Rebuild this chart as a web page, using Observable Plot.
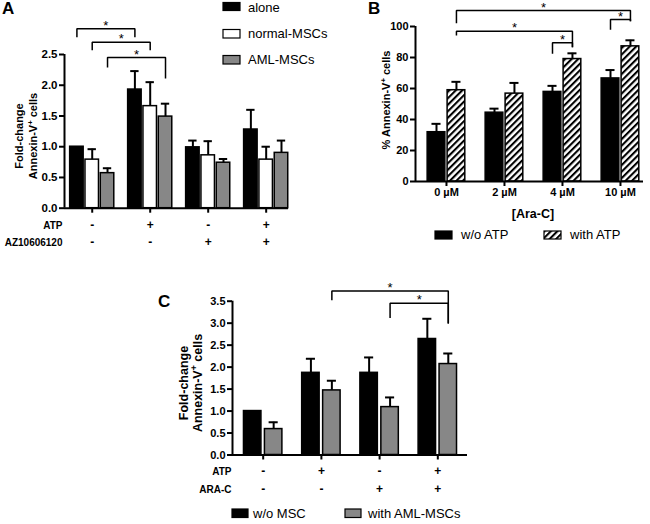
<!DOCTYPE html>
<html><head><meta charset="utf-8">
<script src="https://cdn.jsdelivr.net/npm/d3@7"></script>
<script src="https://cdn.jsdelivr.net/npm/@observablehq/plot@0.6"></script>
<style>
body{margin:0;background:#fff;}
#fig{position:relative;width:650px;height:524px;overflow:hidden;background:#fff;font-family:"Liberation Sans",Arial,Helvetica,sans-serif;}
</style></head><body><div id="fig"></div><script>
// ---------------- DATA ----------------
// Panel A
const atpA = ["-", "+", "-", "+"];
const azA = ["-", "-", "+", "+"];
const seriesA = ["alone", "normal-MSCs", "AML-MSCs"];
const aloneA = [1.00, 1.93, 0.99, 1.28];
const aloneErrA = [0, 0.30, 0.11, 0.32];
const normalA = [0.79, 1.66, 0.86, 0.79];
const normalErrA = [0.17, 0.39, 0.23, 0.21];
const amlA = [0.57, 1.49, 0.74, 0.90];
const amlErrA = [0.08, 0.21, 0.06, 0.20];
const yTicksA = [0, 0.5, 1.0, 1.5, 2.0, 2.5];
// brackets: from [group, series] to [group, series], y of top and of the two legs
const bracketsA = [
  {from: [0, 0], to: [1, 0], top: 2.92, leg1: 2.78, leg2: 2.78},
  {from: [0, 1], to: [1, 1], top: 2.70, leg1: 2.57, leg2: 2.57},
  {from: [0, 2], to: [1, 2], top: 2.45, leg1: 2.29, leg2: 2.11}
];

// Panel B
const concB = ["0 µM", "2 µM", "4 µM", "10 µM"];
const seriesB = ["w/o ATP", "with ATP"];
const woAtpB = [31.8, 44.4, 57.8, 66.5];
const woAtpErrB = [5.4, 2.6, 3.9, 5.4];
const withAtpB = [58.9, 56.7, 79.0, 87.2];
const withAtpErrB = [5.4, 6.9, 3.7, 3.9];
const yTicksB = [0, 20, 40, 60, 80, 100];
const bracketsB = [
  {from: [0, 1], to: [3, 1], top: 110.3, leg1: 102.1, leg2: 103.4},
  {from: [0, 1], to: [2, 1], top: 97.0, leg1: 94.2, leg2: 86.6},
  {from: [2, 0], to: [2, 1], top: 89.5, leg1: 82.4, leg2: 86.6},
  {from: [3, 0], to: [3, 1], top: 104.5, leg1: 97.9, leg2: 103.4}
];

// Panel C
const atpC = ["-", "+", "-", "+"];
const araC = ["-", "-", "+", "+"];
const seriesC = ["w/o MSC", "with AML-MSCs"];
const woMscC = [1.00, 1.87, 1.87, 2.64];
const woMscErrC = [0, 0.32, 0.35, 0.46];
const withAmlC = [0.59, 1.47, 1.09, 2.07];
const withAmlErrC = [0.155, 0.22, 0.22, 0.24];
const yTicksC = [0, 0.5, 1.0, 1.5, 2.0, 2.5, 3.0, 3.5];
const bracketsC = [
  {from: [1, 1], to: [3, 1], top: 3.73, leg1: 3.52, leg2: 2.99},
  {from: [2, 1], to: [3, 1], top: 3.455, leg1: 3.12, leg2: 2.99}
];

// ---------------- DRAWING ----------------
const FONT = '"Liberation Sans", Arial, Helvetica, sans-serif';
const GREY = "#878787";
const fig = document.getElementById("fig");

function panel(cfg) {
  const rows = cfg.values.flatMap((vals, s) => vals.map((v, g) => ({g, s, value: v, err: cfg.errs[s][g]})));
  const pos = (g, s) => g + cfg.offsets[s];
  const hw = cfg.barW / 2;
  const errRows = rows.filter(d => d.err > 0);
  const bpts = cfg.brackets.flatMap((b, i) => {
    const x1 = pos(...b.from), x2 = pos(...b.to);
    return [{i, bx: x1, by: b.leg1}, {i, bx: x1, by: b.top}, {i, bx: x2, by: b.top}, {i, bx: x2, by: b.leg2}];
  });
  const stars = cfg.brackets.map(b => ({sx: (pos(...b.from) + pos(...b.to)) / 2, sy: b.top}));
  const bars = cfg.fills.map((f, s) => Plot.rect(rows.filter(d => d.s === s), {
    x1: d => pos(d.g, d.s) - hw, x2: d => pos(d.g, d.s) + hw, y1: 0, y2: "value",
    fill: f, stroke: "#000", strokeWidth: 1.5
  }));
  const svg = Plot.plot({
    width: cfg.width, height: cfg.height,
    marginLeft: cfg.m[0], marginRight: cfg.m[1], marginTop: cfg.m[2], marginBottom: cfg.m[3],
    x: {type: "linear", domain: cfg.xDomain, label: null},
    y: {domain: cfg.yDomain, label: null},
    style: {fontFamily: FONT, background: "none", color: "#000", overflow: "visible"},
    marks: [
      ...bars,
      Plot.ruleX(errRows, {x: d => pos(d.g, d.s), y1: "value", y2: d => d.value + d.err, strokeWidth: 2}),
      Plot.ruleY(errRows, {y: d => d.value + d.err, x1: d => pos(d.g, d.s) - cfg.cap, x2: d => pos(d.g, d.s) + cfg.cap, strokeWidth: 2}),
      Plot.ruleY([cfg.yDomain[0]], {strokeWidth: 2}),
      Plot.ruleX([cfg.xDomain[0]], {strokeWidth: 2}),
      Plot.axisY({ticks: cfg.yTicks, tickFormat: cfg.yFmt, tickSize: 5, tickPadding: 2, fontSize: cfg.tickFont, fontWeight: "bold", strokeWidth: 2, label: null}),
      Plot.axisX({ticks: [0, 1, 2, 3], tickFormat: cfg.xFmt || (() => ""), tickSize: 5, tickPadding: 2, fontSize: 11, fontWeight: "bold", strokeWidth: 2, label: null}),
      Plot.line(bpts, {x: "bx", y: "by", z: "i", strokeWidth: 1.5, strokeLinejoin: "miter", strokeLinecap: "butt"}),
      Plot.text(stars, {x: "sx", y: "sy", text: () => "*", dy: -3, fontSize: 13}),
      ...(cfg.extra || [])
    ]
  });
  svg.style.position = "absolute";
  svg.style.left = cfg.left + "px";
  svg.style.top = cfg.top + "px";
  svg.style.maxWidth = "none";
  fig.appendChild(svg);
  return svg;
}

function signRow(signs, label, dy, dx) {
  return [
    Plot.text(signs.map((s, g) => ({g, s})), {x: "g", text: "s", frameAnchor: "bottom", dy, fontSize: 12, fontWeight: "bold"}),
    Plot.text([label], {text: d => d, frameAnchor: "bottom-left", dx, dy, textAnchor: "end", fontSize: 10, fontWeight: "bold"})
  ];
}

// Panel A
panel({
  values: [aloneA, normalA, amlA], errs: [aloneErrA, normalErrA, amlErrA],
  fills: ["#000", "#fff", GREY], offsets: [-0.264, 0, 0.264], barW: 0.233, cap: 0.072,
  xDomain: [-0.478, 3.385], yDomain: [0, 2.5], yTicks: yTicksA, yFmt: d3.format(".1f"), tickFont: 11.5,
  width: 330, height: 260, m: [64, 42, 54, 52.3], left: 0, top: 0,
  brackets: bracketsA,
  extra: [...signRow(atpA, "ATP", 20.6, -2), ...signRow(azA, "AZ10606120", 37.3, -2)]
});

// Panel B
const svgB = panel({
  values: [woAtpB, withAtpB], errs: [woAtpErrB, withAtpErrB],
  fills: ["#000", "url(#hatchB)"], offsets: [-0.172, 0.172], barW: 0.305, cap: 0.078,
  xDomain: [-0.534, 3.397], yDomain: [0, 100], yTicks: yTicksB, yFmt: d => d, tickFont: 11,
  xFmt: i => concB[i],
  width: 320, height: 260, m: [85, 7, 26, 79], left: 330, top: 0,
  brackets: bracketsB
});
const pat = d3.select(svgB).insert("defs", ":first-child").append("pattern")
  .attr("id", "hatchB").attr("patternUnits", "userSpaceOnUse")
  .attr("width", 4.6).attr("height", 4.6).attr("patternTransform", "rotate(45)");
pat.append("rect").attr("width", 4.6).attr("height", 4.6).attr("fill", "#fff");
pat.append("line").attr("x1", 1).attr("x2", 1).attr("y1", 0).attr("y2", 4.6).attr("stroke", "#000").attr("stroke-width", 2.2);

// Panel C
panel({
  values: [woMscC, withAmlC], errs: [woMscErrC, withAmlErrC],
  fills: ["#000", GREY], offsets: [-0.18, 0.18], barW: 0.30, cap: 0.078,
  xDomain: [-0.527, 3.51], yDomain: [0, 3.5], yTicks: yTicksC, yFmt: d3.format(".1f"), tickFont: 11,
  width: 330, height: 264, m: [82, 13, 40.7, 69.5], left: 150, top: 260,
  brackets: bracketsC,
  extra: [...signRow(atpC, "ATP", 19.5, -1), ...signRow(araC, "ARA-C", 37.8, -1)]
});

// ---------------- OVERLAY TEXT (letters, axis titles, legends) ----------------
const ov = d3.select(fig).append("svg").attr("width", 650).attr("height", 524)
  .style("position", "absolute").style("left", "0px").style("top", "0px")
  .style("font-family", FONT);

function letter(t, x, y) { ov.append("text").attr("x", x).attr("y", y).attr("font-size", 17).attr("font-weight", "bold").text(t); }
letter("A", 2, 14); letter("B", 368, 14); letter("C", 158, 307);

function ylab(lines, cy, xs, fs) {
  const g = ov.append("g").attr("transform", `translate(0,${cy}) rotate(-90)`)
    .attr("font-weight", "bold").attr("font-size", fs).attr("text-anchor", "middle");
  lines.forEach((ln, k) => {
    const t = g.append("text").attr("x", 0).attr("y", xs[k] + fs * 0.36);
    if (ln.sup) {
      t.append("tspan").text(ln.pre);
      t.append("tspan").attr("dy", -fs * 0.38).attr("font-size", fs * 0.7).text("+");
      t.append("tspan").attr("dy", fs * 0.38).text(ln.post);
    } else t.text(ln.pre);
  });
}
ylab([{pre: "Fold-change"}, {pre: "Annexin-V", sup: true, post: " cells"}], 136, [19, 33], 11);
ylab([{pre: "% Annexin-V", sup: true, post: " cells"}], 100, [386], 11);
ylab([{pre: "Fold-change"}, {pre: "Annexin-V", sup: true, post: " cells"}], 383, [183, 197.5], 12.5);

ov.append("text").attr("x", 533).attr("y", 217.5).attr("text-anchor", "middle")
  .attr("font-weight", "bold").attr("font-size", 12.5).text("[Ara-C]");

const defs = ov.append("defs");
const p2 = defs.append("pattern").attr("id", "hatchLeg").attr("patternUnits", "userSpaceOnUse")
  .attr("width", 4.6).attr("height", 4.6).attr("patternTransform", "rotate(45)");
p2.append("rect").attr("width", 4.6).attr("height", 4.6).attr("fill", "#fff");
p2.append("line").attr("x1", 1).attr("x2", 1).attr("y1", 0).attr("y2", 4.6).attr("stroke", "#000").attr("stroke-width", 2.2);

function legItem(label, fill, x, y, w, h, tx, base) {
  ov.append("rect").attr("x", x).attr("y", y).attr("width", w).attr("height", h)
    .attr("fill", fill).attr("stroke", "#000").attr("stroke-width", 1.2);
  ov.append("text").attr("x", tx).attr("y", base).attr("font-size", 13).text(label);
}
legItem(seriesA[0], "#000", 223, 2.5, 17, 8, 248, 11.5);
legItem(seriesA[1], "#fff", 223, 29.5, 17, 8.5, 248, 37.5);
legItem(seriesA[2], GREY, 223, 55.5, 17, 8.5, 248, 64);

legItem(seriesB[0], "#000", 435, 231, 17, 8, 461, 239);
legItem(seriesB[1], "url(#hatchLeg)", 544, 231, 17, 8, 570, 239);

legItem(seriesC[0], "#000", 232, 509, 16, 8.5, 253, 518);
legItem(seriesC[1], GREY, 345, 509, 16, 8.5, 368, 518);
</script></body></html>
